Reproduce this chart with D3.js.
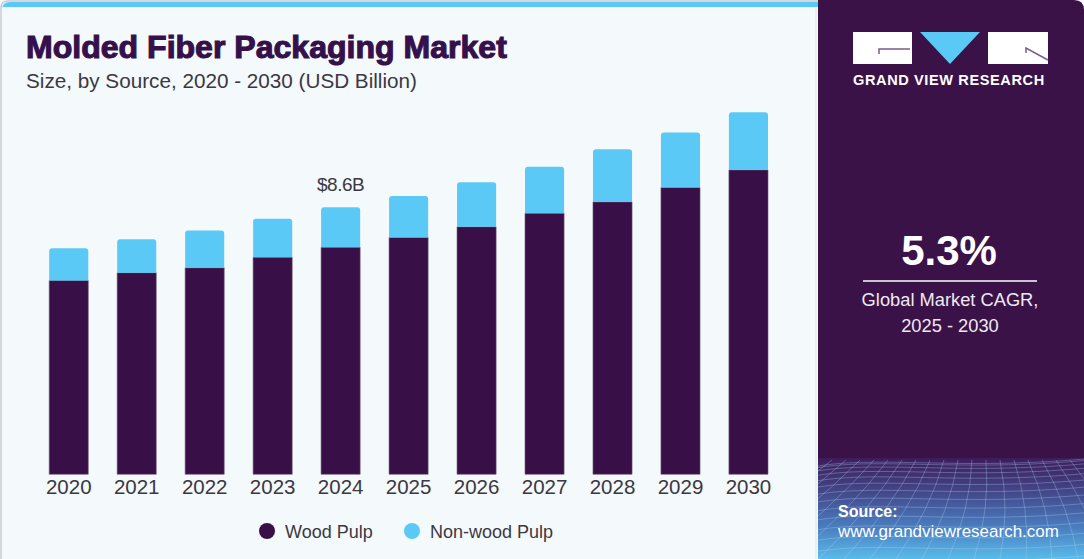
<!DOCTYPE html>
<html>
<head>
<meta charset="utf-8">
<script src="https://cdn.jsdelivr.net/npm/d3@7"></script>
<style>
  html, body { margin: 0; padding: 0; background: #ffffff; }
  svg { display: block; }
  text { font-family: "Liberation Sans", Arial, sans-serif; }
</style>
</head>
<body>
<svg id="chart" width="1084" height="559"></svg>
<script>
// ---- data ----
const years = ["2020","2021","2022","2023","2024","2025","2026","2027","2028","2029","2030"];
const woodPulp    = [6.24, 6.49, 6.65, 6.99, 7.31, 7.63, 7.97, 8.41, 8.77, 9.24, 9.80];
const nonWoodPulp = [1.04, 1.08, 1.20, 1.24, 1.29, 1.33, 1.44, 1.50, 1.70, 1.77, 1.86];
const seriesNames = ["Wood Pulp", "Non-wood Pulp"];
const seriesColors = ["#380f47", "#5bc9f5"];
const annotationYear = "2024";
const annotationText = "$8.6B";
const cagrValue = "5.3%";
const cagrLines = ["Global Market CAGR,", "2025 - 2030"];

const W = 1084, H = 559;
const svg = d3.select("#chart");

function fitText(sel, targetWidth) {
  const node = sel.node();
  const fs = parseFloat(sel.attr("font-size"));
  const w = node.getComputedTextLength();
  if (w > 0) sel.attr("font-size", (fs * targetWidth / w).toFixed(2));
  return sel;
}

// ---- backgrounds ----
const defs = svg.append("defs");
const grad = defs.append("linearGradient").attr("id", "meshGrad")
  .attr("x1", 0).attr("y1", 0).attr("x2", 0).attr("y2", 1);
grad.append("stop").attr("offset", "0%").attr("stop-color", "#3d1c5a");
grad.append("stop").attr("offset", "35%").attr("stop-color", "#43498c");
grad.append("stop").attr("offset", "70%").attr("stop-color", "#4a80c2");
grad.append("stop").attr("offset", "100%").attr("stop-color", "#5abbea");
defs.append("clipPath").attr("id", "meshClip")
  .append("rect").attr("x", 818).attr("y", 458).attr("width", 266).attr("height", H - 458);

// left panel
svg.append("rect").attr("x", 0).attr("y", 0).attr("width", 830).attr("height", H)
  .attr("fill", "#f4f9fc");
svg.append("path")
  .attr("d", "M1,559 L1,8 Q1,1 8,1 L818,1")
  .attr("fill", "none").attr("stroke", "#c9cdd2").attr("stroke-width", 1.5);
svg.append("path")
  .attr("d", "M2,10 Q2,2 10,2 L818,2 L818,7 L2,7 Z")
  .attr("fill", "#5bc9f5");
svg.append("line").attr("x1", 816).attr("x2", 816).attr("y1", 7).attr("y2", H)
  .attr("stroke", "#dde3e8").attr("stroke-width", 1);

// right panel
svg.append("path")
  .attr("d", `M818,0 L1074,0 Q1084,0 1084,10 L1084,${H} L818,${H} Z`)
  .attr("fill", "#3a1248");
svg.append("rect").attr("x", 818).attr("y", 458).attr("width", 266).attr("height", H - 458)
  .attr("fill", "url(#meshGrad)");

// decorative mesh
const mesh = svg.append("g").attr("clip-path", "url(#meshClip)")
  .attr("stroke", "#b5d6f3").attr("stroke-opacity", 0.4)
  .attr("fill", "none").attr("stroke-width", 0.8);
d3.range(0, 14).forEach(i => {
  const t = i / 13;
  const y0 = 462 + Math.pow(t, 1.6) * 97;
  mesh.append("path").attr("d",
    `M818,${y0 + 4} C880,${y0 - 6} 960,${y0 + 8} 1084,${y0 - 3}`);
});
d3.range(-6, 22).forEach(i => {
  const xTop = 818 + i * 14;
  const xBot = 818 + (i - 6) * 26;
  mesh.append("path").attr("d",
    `M${xTop},460 Q${(xTop + xBot) / 2 + 10},${510} ${xBot},559`);
});

// ---- logo ----
const logo = svg.append("g");
logo.append("rect").attr("x", 853).attr("y", 32).attr("width", 59).attr("height", 32).attr("fill", "#ffffff");
logo.append("path").attr("d", "M879,54 L879,49 L910,49").attr("fill", "none")
  .attr("stroke", "#7a5d8c").attr("stroke-width", 1.5);
logo.append("path").attr("d", "M920,32 L980,32 L950,64 Z").attr("fill", "#5bc9f5");
logo.append("rect").attr("x", 988).attr("y", 32).attr("width", 60).attr("height", 32).attr("fill", "#ffffff");
logo.append("path").attr("d", "M1026,53 L1026,48 L1048,60").attr("fill", "none")
  .attr("stroke", "#7a5d8c").attr("stroke-width", 1.5);
const logoText = logo.append("text").attr("x", 853).attr("y", 85)
  .attr("font-size", 11.5).attr("font-weight", "bold").attr("fill", "#ffffff")
  .attr("letter-spacing", 0.6).text("GRAND VIEW RESEARCH");
fitText(logoText, 195);

// ---- CAGR ----
svg.append("text").attr("x", 949).attr("y", 265).attr("text-anchor", "middle")
  .attr("font-size", 42).attr("font-weight", "bold").attr("fill", "#ffffff").text(cagrValue);
svg.append("line").attr("x1", 863).attr("x2", 1037).attr("y1", 281).attr("y2", 281)
  .attr("stroke", "#c9c3d2").attr("stroke-width", 2);
const cagrText = cagrLines.map((l, i) =>
  svg.append("text").attr("x", 950).attr("y", 306 + i * 25.5).attr("text-anchor", "middle")
    .attr("font-size", 18).attr("fill", "#efe9f2").text(l));
fitText(cagrText[0], 177);
cagrText[1].attr("font-size", cagrText[0].attr("font-size"));

// ---- source ----
svg.append("text").attr("x", 838).attr("y", 517).attr("font-size", 16)
  .attr("font-weight", "bold").attr("fill", "#ffffff").text("Source:");
const srcUrl = svg.append("text").attr("x", 838).attr("y", 537).attr("font-size", 16)
  .attr("fill", "#ffffff").text("www.grandviewresearch.com");
fitText(srcUrl, 221);

// ---- titles ----
const title = svg.append("text").attr("x", 26).attr("y", 58).attr("font-size", 32)
  .attr("font-weight", "bold").attr("fill", "#35104a")
  .attr("stroke", "#35104a").attr("stroke-width", 1.1)
  .text("Molded Fiber Packaging Market");
fitText(title, 481);
const subtitle = svg.append("text").attr("x", 26).attr("y", 88).attr("font-size", 20)
  .attr("fill", "#3b3842").text("Size, by Source, 2020 - 2030 (USD Billion)");
fitText(subtitle, 391);

// ---- chart ----
const x = d3.scaleBand().domain(years).range([35.6, 781.6]).paddingInner(0.425).paddingOuter(0.2);
const y = d3.scaleLinear().domain([0, 8.6]).range([474.3, 207.3]);

const stackData = years.map((yr, i) => ({ year: yr, wood: woodPulp[i], nonwood: nonWoodPulp[i] }));
const stacked = d3.stack().keys(["wood", "nonwood"])(stackData);

function barPath(x0, w, yTop, yBot, r) {
  return `M${x0},${yBot} L${x0},${yTop + r} Q${x0},${yTop} ${x0 + r},${yTop} ` +
         `L${x0 + w - r},${yTop} Q${x0 + w},${yTop} ${x0 + w},${yTop + r} L${x0 + w},${yBot} Z`;
}

const gBars = svg.append("g");
stacked.forEach((layer, li) => {
  gBars.append("g").selectAll("path").data(layer).join("path")
    .attr("d", d => barPath(x(d.data.year), x.bandwidth(), y(d[1]), y(d[0]), li === 1 ? 3 : 0))
    .attr("fill", seriesColors[li])
    .attr("stroke", li === 0 ? "#6d5a78" : "none")
    .attr("stroke-width", 0.6);
});

// x axis
const xAxis = d3.axisBottom(x).tickSize(0).tickPadding(0);
const gx = svg.append("g").attr("transform", "translate(0,479)").call(xAxis);
gx.select(".domain").remove();
gx.selectAll("text").attr("font-size", 20.5).attr("fill", "#3b3842")
  .attr("dy", "0.72em").attr("font-family", "Liberation Sans, Arial, sans-serif");

// annotation
const annIdx = years.indexOf(annotationYear);
svg.append("text")
  .attr("x", x(annotationYear) + x.bandwidth() / 2)
  .attr("y", y(woodPulp[annIdx] + nonWoodPulp[annIdx]) - 16)
  .attr("text-anchor", "middle").attr("font-size", 19).attr("fill", "#3b3842")
  .attr("letter-spacing", -0.5)
  .text(annotationText);

// legend
const legendX = [267, 412];
seriesNames.forEach((n, i) => {
  svg.append("circle").attr("cx", legendX[i]).attr("cy", 531).attr("r", 8).attr("fill", seriesColors[i]);
  svg.append("text").attr("x", legendX[i] + 18).attr("y", 537.5).attr("font-size", 18)
    .attr("fill", "#3b3842").text(n);
});
</script>
</body>
</html>
